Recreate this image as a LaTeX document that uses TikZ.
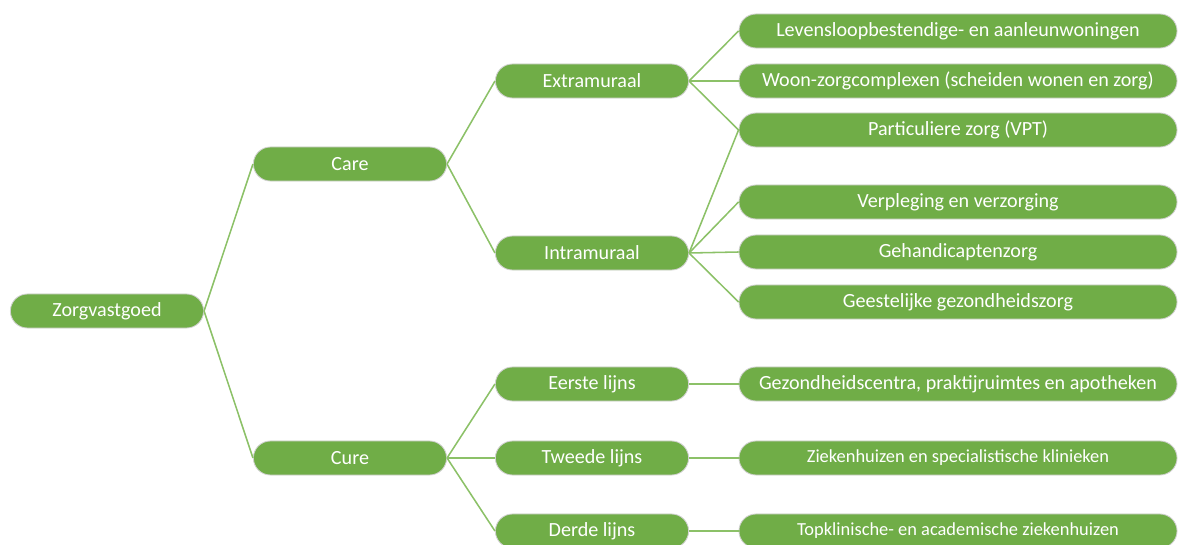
\documentclass[tikz,border=0pt]{standalone}
\usepackage{fontspec}
\setmainfont{Carlito}
\usetikzlibrary{shapes.misc}

\definecolor{boxgreen}{HTML}{70AD47}
\definecolor{linegreen}{HTML}{8CC168}

\tikzset{
  cat/.style={rounded rectangle, fill=boxgreen, draw=black!18, line width=0.6pt,
    text=white, font=\fontsize{14.3}{16}\selectfont,
    minimum height=0.85cm, minimum width=4.83cm, inner sep=0pt},
  leaf/.style={cat, minimum width=10.95cm},
  smallleaf/.style={leaf, font=\fontsize{13.1}{15}\selectfont},
  link/.style={draw=linegreen, line width=1.1pt}
}

\begin{document}
\begin{tikzpicture}[x=0.025cm,y=-0.025cm]
\useasboundingbox (0,0) rectangle (1178,545);

\node[cat] (zorg) at (107,311) {Zorgvastgoed};

\node[cat] (care) at (350,164) {Care};
\node[cat] (cure) at (350,458) {Cure};

\node[cat] (extra) at (592,81) {Extramuraal};
\node[cat] (intra) at (592,253) {Intramuraal};
\node[cat] (lijn1) at (592,384) {Eerste lijns};
\node[cat] (lijn2) at (592,458) {Tweede lijns};
\node[cat] (lijn3) at (592,531) {Derde lijns};

\node[leaf] (woning) at (958,31) {Levensloopbestendige- en aanleunwoningen};
\node[leaf] (complex) at (958,81) {Woon-zorgcomplexen (scheiden wonen en zorg)};
\node[leaf] (vpt) at (958,130) {Particuliere zorg (VPT)};
\node[leaf] (verpl) at (958,202) {Verpleging en verzorging};
\node[leaf] (gehand) at (958,252) {Gehandicaptenzorg};
\node[leaf] (ggz) at (958,302) {Geestelijke gezondheidszorg};
\node[leaf] (centra) at (958,384) {Gezondheidscentra, praktijruimtes en apotheken};
\node[smallleaf] (zkh) at (958,458) {Ziekenhuizen en specialistische klinieken};
\node[smallleaf] (topkl) at (958,531) {Topklinische- en academische ziekenhuizen};

% verbindingen
\draw[link] (zorg.east) -- (care.west);
\draw[link] (zorg.east) -- (cure.west);
\draw[link] (care.east) -- (extra.west);
\draw[link] (care.east) -- (intra.west);
\draw[link] (cure.east) -- (lijn1.west);
\draw[link] (cure.east) -- (lijn2.west);
\draw[link] (cure.east) -- (lijn3.west);
\draw[link] (extra.east) -- (woning.west);
\draw[link] (extra.east) -- (complex.west);
\draw[link] (extra.east) -- (vpt.west);
\draw[link] (intra.east) -- (vpt.west);
\draw[link] (intra.east) -- (verpl.west);
\draw[link] (intra.east) -- (gehand.west);
\draw[link] (intra.east) -- (ggz.west);
\draw[link] (lijn1.east) -- (centra.west);
\draw[link] (lijn2.east) -- (zkh.west);
\draw[link] (lijn3.east) -- (topkl.west);
\end{tikzpicture}
\end{document}
